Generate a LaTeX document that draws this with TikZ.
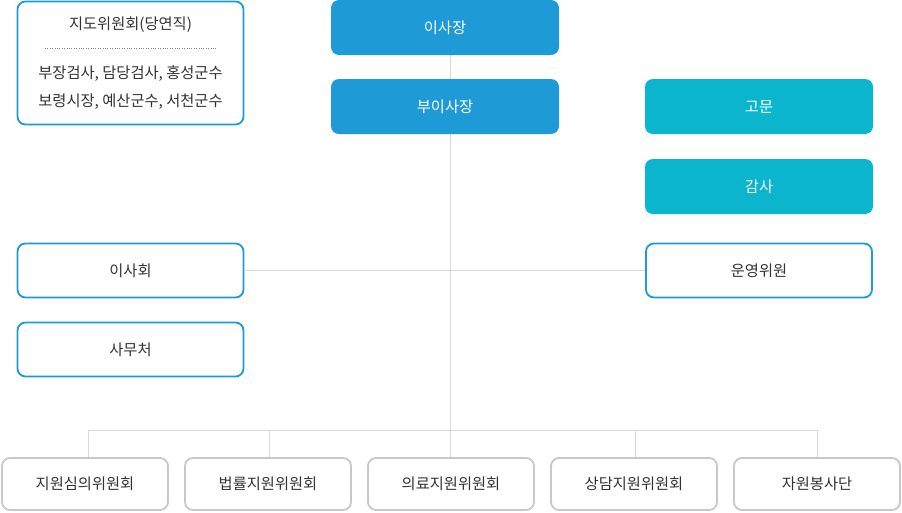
\documentclass[tikz,border=0pt]{standalone}
\usepackage{fontspec}
\setmainfont{Noto Sans CJK KR}
\usetikzlibrary{positioning}
\definecolor{mainblue}{HTML}{1E9AD6}
\definecolor{teal}{HTML}{0BB5CE}
\definecolor{txt}{HTML}{333333}
\definecolor{linegray}{HTML}{D9D9D9}
\definecolor{boxgray}{HTML}{C8C8C8}
\tikzset{
  base/.style={rounded corners=8pt, minimum width=226pt, minimum height=54pt, inner sep=0pt, font=\fontsize{15.3}{18}\selectfont, text=txt},
  filledbox/.style={base, fill=mainblue, text=white, minimum width=228pt, minimum height=55pt},
  tealbox/.style={base, fill=teal, text=white, minimum width=228pt, minimum height=55pt},
  outlinebox/.style={base, draw=mainblue, line width=1.8pt, fill=white},
  bottombox/.style={base, draw=boxgray, line width=1.8pt, fill=white, minimum width=166pt, minimum height=52pt},
  conn/.style={draw=linegray, line width=1pt}
}
\begin{document}
\begin{tikzpicture}[x=1pt,y=-1pt]
\useasboundingbox (0,0) rectangle (902,512);
% connectors first
\coordinate (top) at (450,55);
\coordinate (bot) at (450,430);
\coordinate (bl) at (88,430);
\coordinate (br) at (817,430);
\coordinate (b2) at (269,430);
\coordinate (b4) at (635,430);
\draw[conn] (top) -- (bot);
\draw[conn] (bl) -- (br);
% nodes
\node[filledbox] (chair) at (445,27.5) {이사장};
\node[filledbox] (vice) at (445,106.5) {부이사장};
\node[tealbox] (advisor) at (759,106.5) {고문};
\node[tealbox] (audit) at (759,186.5) {감사};
\node[outlinebox] (ops) at (759,270.5) {운영위원};
\node[outlinebox] (board) at (130.5,270.5) {이사회};
\node[outlinebox] (office) at (130.5,349.5) {사무처};
\draw[conn] (board.east) -- (ops.west);
\node[outlinebox, minimum height=123pt] (guide) at (130.5,63) {};
\node[base, minimum height=0pt] (guidetitle) at (130.5,24.5) {지도위원회(당연직)};
\node[base, minimum height=0pt] (guidel1) at (130.5,74) {부장검사, 담당검사, 홍성군수};
\node[base, minimum height=0pt] (guidel2) at (130.5,102) {보령시장, 예산군수, 서천군수};
\coordinate (dotl) at (45,48);
\coordinate (dotr) at (216,48);
\draw[draw=txt!60, line width=0.8pt, dash pattern=on 0.8pt off 1.6pt] (dotl) -- (dotr);
\node[bottombox] (c1) at (85,484) {지원심의위원회};
\node[bottombox] (c2) at (268,484) {법률지원위원회};
\node[bottombox] (c3) at (451,484) {의료지원위원회};
\node[bottombox] (c4) at (634,484) {상담지원위원회};
\node[bottombox] (c5) at (817,484) {자원봉사단};
\draw[conn] (bl) -- (c1.north -| bl);
\draw[conn] (b2) -- (c2.north -| b2);
\draw[conn] (bot) -- (c3.north -| bot);
\draw[conn] (b4) -- (c4.north -| b4);
\draw[conn] (br) -- (c5.north -| br);
\end{tikzpicture}
\end{document}
